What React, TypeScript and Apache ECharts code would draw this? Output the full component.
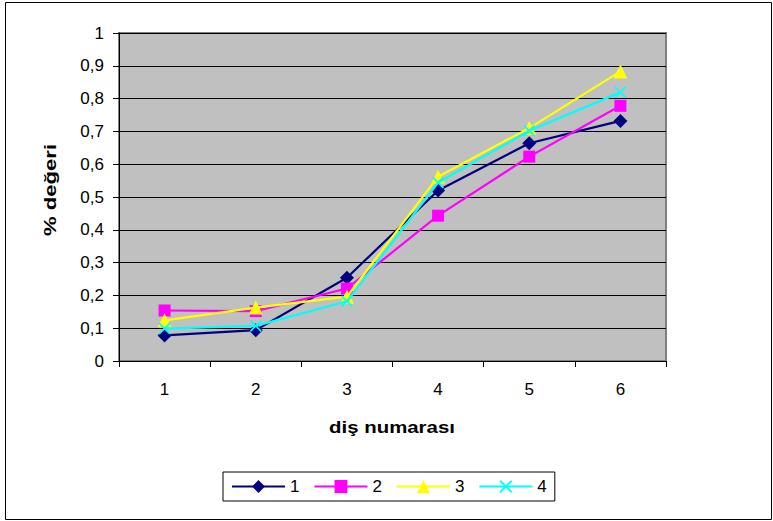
import React, { useEffect, useRef } from "react";
import * as echarts from "echarts";

// Tooth numbers along the x axis
const categories = ["1", "2", "3", "4", "5", "6"];

// Measured percentage for each of the four groups
const series1 = [0.078, 0.094, 0.254, 0.52, 0.664, 0.732];
const series2 = [0.154, 0.152, 0.221, 0.443, 0.623, 0.778];
const series3 = [0.124, 0.163, 0.196, 0.562, 0.71, 0.883];
const series4 = [0.099, 0.107, 0.182, 0.544, 0.702, 0.819];

const seriesNames = ["1", "2", "3", "4"];
const seriesColors = ["#000080", "#FF00FF", "#FFFF00", "#00FFFF"];

const xTitle = "diş numarası";
const yTitle = "% değeri";

// Filled "x" mark
const crossSymbol =
  "path://M0,1L1,0L5,4L9,0L10,1L6,5L10,9L9,10L5,6L1,10L0,9L4,5Z";
const seriesSymbols = ["diamond", "rect", "triangle", crossSymbol];
const symbolSizes = [14, 12, 14, 12];

const FONT = "'Liberation Sans', Arial, sans-serif";

export default function App() {
  const ref = useRef<HTMLDivElement>(null);

  useEffect(() => {
    document.body.style.margin = "0";
    if (!ref.current) return;
    const chart = echarts.init(ref.current, undefined, { renderer: "svg" });

    const data = [series1, series2, series3, series4];

    chart.setOption({
      animation: false,
      backgroundColor: "#FFFFFF",
      textStyle: { fontFamily: FONT },
      grid: {
        left: 119,
        top: 33,
        right: 107,
        bottom: 160,
        show: true,
        backgroundColor: "#C0C0C0",
        borderColor: "#808080",
        borderWidth: 2,
      },
      xAxis: {
        type: "category",
        data: categories,
        boundaryGap: true,
        axisLine: { show: true, lineStyle: { color: "#000", width: 1 } },
        axisTick: {
          show: true,
          inside: false,
          length: 6,
          alignWithLabel: false,
          lineStyle: { color: "#000" },
        },
        axisLabel: {
          margin: 20,
          fontFamily: FONT,
          fontSize: 17,
          color: "#000",
        },
        splitLine: { show: false },
      },
      yAxis: {
        type: "value",
        min: 0,
        max: 1,
        interval: 0.1,
        axisLine: { show: true, lineStyle: { color: "#000", width: 1 } },
        axisTick: {
          show: true,
          inside: false,
          length: 6,
          lineStyle: { color: "#000" },
        },
        axisLabel: {
          margin: 15,
          fontFamily: FONT,
          fontSize: 17,
          color: "#000",
          formatter: (v: number) =>
            String(Math.round(v * 10) / 10).replace(".", ","),
        },
        splitLine: { show: true, lineStyle: { color: "#000", width: 1 } },
      },
      legend: {
        show: true,
        left: 223,
        top: 472,
        orient: "horizontal",
        borderColor: "#000",
        borderWidth: 1,
        padding: [6, 8, 6, 8],
        itemWidth: 53,
        itemHeight: 16,
        itemGap: 14,
        textStyle: { fontFamily: FONT, fontSize: 17, color: "#000" },
        data: seriesNames,
      },
      graphic: [
        {
          type: "rect",
          shape: { x: 5.5, y: 2.5, width: 766, height: 517 },
          style: { fill: "none", stroke: "#000", lineWidth: 1 },
          silent: true,
        },
        {
          type: "text",
          x: 392,
          y: 427,
          scaleX: 1.2,
          style: {
            text: xTitle,
            font: `bold 17px ${FONT}`,
            fill: "#000",
            align: "center",
            verticalAlign: "middle",
          },
          silent: true,
        },
        {
          type: "text",
          x: 50,
          y: 190,
          rotation: Math.PI / 2,
          scaleX: 1.3,
          style: {
            text: yTitle,
            font: `bold 17px ${FONT}`,
            fill: "#000",
            align: "center",
            verticalAlign: "middle",
          },
          silent: true,
        },
      ],
      series: data.map((values, i) => ({
        name: seriesNames[i],
        type: "line",
        data: values,
        symbol: seriesSymbols[i],
        symbolSize: symbolSizes[i],
        showAllSymbol: true,
        lineStyle: { color: seriesColors[i], width: 2.2 },
        itemStyle: { color: seriesColors[i] },
        z: 2 + i,
      })),
    });

    return () => chart.dispose();
  }, []);

  return <div ref={ref} style={{ width: 773, height: 521 }} />;
}
